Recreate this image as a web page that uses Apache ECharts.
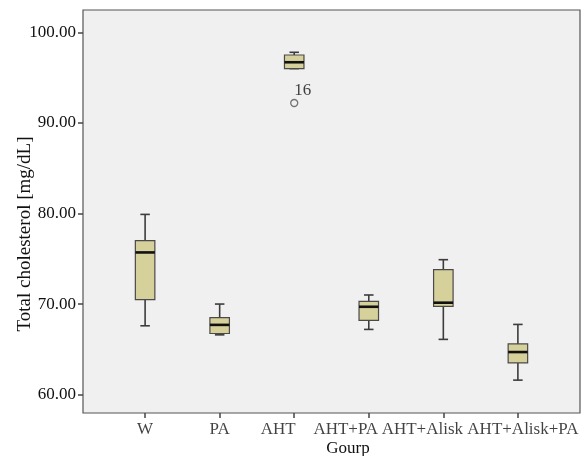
<!DOCTYPE html>
<html>
<head>
<meta charset="utf-8">
<script src="https://cdn.jsdelivr.net/npm/echarts@6/dist/echarts.min.js"></script>
<style>html,body{margin:0;padding:0;background:#fff}#c{width:586px;height:456px}</style>
</head>
<body>
<div id="c"></div>
<script>
const categories = ['W', 'PA', 'AHT', 'AHT+PA', 'AHT+Alisk', 'AHT+Alisk+PA'];
// [lowerWhisker, Q1, median, Q3, upperWhisker]
const boxValues = [
  [67.6, 70.5, 75.7, 77.0, 79.9],
  [66.6, 66.75, 67.7, 68.5, 70.0],
  [96.0, 96.0, 96.7, 97.5, 97.8],
  [67.2, 68.2, 69.7, 70.3, 71.0],
  [66.1, 69.75, 70.15, 73.8, 74.9],
  [61.6, 63.5, 64.7, 65.6, 67.75]
];
const outliers = [[2, 92.2, '16']];
const yTicks = [60, 70, 80, 90, 100];
const xTicks = [0, 1, 2, 3, 4, 5];
const yAxisTitle = 'Total cholesterol [mg/dL]';
const xAxisTitle = 'Gourp';

const Y_MIN = 57.97, Y_MAX = 102.47;
// horizontal nudges of category labels (as in the reference, to avoid overlap)
const labelShift = [0, 0, -16, -23, -21, 5];

const FONT = '"Liberation Serif", "Times New Roman", serif';
const chart = echarts.init(document.getElementById('c'));
const boxData = boxValues.map((v, i) => [i].concat(v));

chart.setOption({
  backgroundColor: '#ffffff',
  animation: false,
  grid: {
    left: 83, right: 6, top: 10, bottom: 43,
    show: true, backgroundColor: '#f0f0f0', borderColor: '#555555', borderWidth: 1.2
  },
  xAxis: {
    type: 'value', min: -0.833, max: 5.833,
    splitLine: { show: false },
    axisLine: { show: false, onZero: false },
    axisTick: { show: true, customValues: xTicks, length: 5, inside: false, lineStyle: { color: '#444', width: 1.5 } },
    axisLabel: { show: false }
  },
  yAxis: {
    type: 'value', min: Y_MIN, max: Y_MAX,
    splitLine: { show: false },
    axisLine: { show: false, onZero: false },
    axisTick: { show: true, customValues: yTicks, length: 5, lineStyle: { color: '#444', width: 1.5 } },
    axisLabel: {
      customValues: yTicks,
      formatter: v => v.toFixed(2),
      fontFamily: FONT, fontSize: 17, color: '#111', margin: 7
    }
  },
  graphic: [
    { type: 'text', x: 25, y: 234, rotation: Math.PI / 2,
      style: { text: yAxisTitle, font: '19px ' + FONT, fill: '#111', align: 'center', verticalAlign: 'middle' } },
    { type: 'text', x: 348, y: 449,
      style: { text: xAxisTitle, font: '17px ' + FONT, fill: '#111', align: 'center', verticalAlign: 'middle' } }
  ],
  series: [
    {
      type: 'custom',
      data: boxData,
      encode: { x: 0, y: [1, 2, 3, 4, 5] },
      renderItem: function (params, api) {
        const x = api.value(0);
        const p = [1,2,3,4,5].map(k => api.coord([x, api.value(k)]));
        const cx = p[0][0];
        const bw = 19.5, cw = 9.5;
        const stroke = '#3c3c3c';
        return {
          type: 'group',
          children: [
            { type: 'line', shape: { x1: cx, y1: p[4][1], x2: cx, y2: p[0][1] }, style: { stroke: stroke, lineWidth: 1.6 } },
            { type: 'line', shape: { x1: cx - cw/2, y1: p[4][1], x2: cx + cw/2, y2: p[4][1] }, style: { stroke: stroke, lineWidth: 1.6 } },
            { type: 'line', shape: { x1: cx - cw/2, y1: p[0][1], x2: cx + cw/2, y2: p[0][1] }, style: { stroke: stroke, lineWidth: 1.6 } },
            { type: 'rect', shape: { x: cx - bw/2, y: p[3][1], width: bw, height: p[1][1] - p[3][1] }, style: { fill: '#d6d09b', stroke: '#4a4a4a', lineWidth: 1.2 } },
            { type: 'line', shape: { x1: cx - bw/2, y1: p[2][1], x2: cx + bw/2, y2: p[2][1] }, style: { stroke: '#111', lineWidth: 2.6 } }
          ]
        };
      }
    },
    {
      type: 'scatter',
      data: outliers.map(o => ({ value: [o[0], o[1]], name: o[2] })),
      symbol: 'circle', symbolSize: 7,
      itemStyle: { color: '#f0f0f0', borderColor: '#555', borderWidth: 1.3 },
      label: {
        show: true, formatter: p => p.name, position: 'right', offset: [-6, -12],
        fontFamily: FONT, fontSize: 17, color: '#111', distance: 2
      }
    },
    {
      // category labels under the axis, anchored at each tick through the scales
      type: 'scatter',
      silent: true,
      clip: false,
      symbolSize: 1,
      itemStyle: { color: 'rgba(0,0,0,0)' },
      data: categories.map((c, i) => ({ value: [i, Y_MIN], name: c })),
      label: {
        show: true, position: 'bottom', distance: 8,
        formatter: p => p.name,
        fontFamily: FONT, fontSize: 17, color: '#111'
      },
      labelLayout: function (params) {
        return { dx: labelShift[params.dataIndex], hideOverlap: false };
      }
    }
  ]
});
</script>
</body>
</html>
